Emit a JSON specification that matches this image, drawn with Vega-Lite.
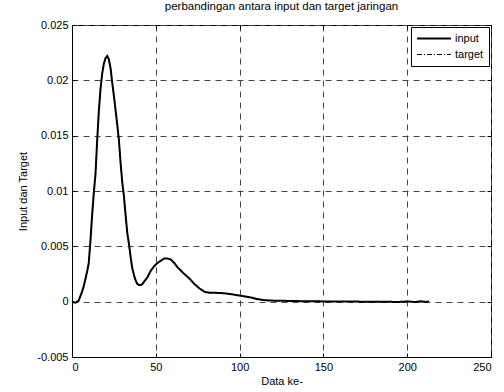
{
  "$schema": "https://vega.github.io/schema/vega-lite/v6.json",
  "width": 419,
  "height": 332,
  "autosize": "none",
  "padding": {"left": 72, "top": 25, "right": 13, "bottom": 35},
  "background": "white",
  "config": {
    "font": "Liberation Sans",
    "view": {"stroke": "black", "strokeWidth": 1},
    "axis": {
      "labelFont": "Liberation Sans",
      "titleFont": "Liberation Sans",
      "labelFontSize": 11,
      "titleFontSize": 11,
      "titleFontWeight": "normal",
      "labelColor": "black",
      "titleColor": "black",
      "domainColor": "black",
      "tickColor": "black",
      "gridColor": "#444444",
      "gridDash": [6, 5],
      "gridOpacity": 1,
      "gridWidth": 1
    }
  },
  "title": {
    "text": "perbandingan antara input dan target jaringan",
    "font": "Liberation Sans",
    "fontSize": 11.5,
    "fontWeight": "normal",
    "color": "black",
    "offset": 7
  },
  "data": {
    "values": [
      {"x": 0, "input": 0.0, "target": 0.0},
      {"x": 2, "input": -0.0001, "target": -0.0001},
      {"x": 4, "input": 0.0001, "target": 0.0001},
      {"x": 6, "input": 0.0009, "target": 0.0009},
      {"x": 7, "input": 0.0014, "target": 0.0014},
      {"x": 9, "input": 0.0027, "target": 0.0027},
      {"x": 10, "input": 0.0035, "target": 0.0035},
      {"x": 11, "input": 0.0055, "target": 0.0055},
      {"x": 12, "input": 0.0078, "target": 0.0078},
      {"x": 13, "input": 0.0098, "target": 0.0098},
      {"x": 14, "input": 0.0115, "target": 0.0115},
      {"x": 15, "input": 0.0145, "target": 0.0145},
      {"x": 16, "input": 0.0172, "target": 0.0172},
      {"x": 17, "input": 0.0192, "target": 0.0192},
      {"x": 18, "input": 0.0206, "target": 0.0206},
      {"x": 19, "input": 0.0215, "target": 0.0215},
      {"x": 20, "input": 0.022, "target": 0.022},
      {"x": 21, "input": 0.0222, "target": 0.0222},
      {"x": 22, "input": 0.0219, "target": 0.0219},
      {"x": 23, "input": 0.0211, "target": 0.0211},
      {"x": 24, "input": 0.0198, "target": 0.0198},
      {"x": 25, "input": 0.0186, "target": 0.0186},
      {"x": 26, "input": 0.0173, "target": 0.0173},
      {"x": 27, "input": 0.016, "target": 0.016},
      {"x": 28, "input": 0.0146, "target": 0.0146},
      {"x": 29, "input": 0.0125, "target": 0.0125},
      {"x": 30, "input": 0.0108, "target": 0.0108},
      {"x": 31, "input": 0.0095, "target": 0.0095},
      {"x": 32, "input": 0.0078, "target": 0.0078},
      {"x": 33, "input": 0.0062, "target": 0.0062},
      {"x": 34, "input": 0.0052, "target": 0.0052},
      {"x": 35, "input": 0.004, "target": 0.004},
      {"x": 36, "input": 0.003, "target": 0.003},
      {"x": 37, "input": 0.0024, "target": 0.0024},
      {"x": 38, "input": 0.0019, "target": 0.0019},
      {"x": 39, "input": 0.0016, "target": 0.0016},
      {"x": 40, "input": 0.0015, "target": 0.0015},
      {"x": 41, "input": 0.0015, "target": 0.0015},
      {"x": 42, "input": 0.0016, "target": 0.0016},
      {"x": 43, "input": 0.0018, "target": 0.0018},
      {"x": 45, "input": 0.0022, "target": 0.0022},
      {"x": 47, "input": 0.0028, "target": 0.0028},
      {"x": 49, "input": 0.0032, "target": 0.0032},
      {"x": 51, "input": 0.0035, "target": 0.0035},
      {"x": 53, "input": 0.0037, "target": 0.0037},
      {"x": 55, "input": 0.0039, "target": 0.0039},
      {"x": 57, "input": 0.0039, "target": 0.0039},
      {"x": 59, "input": 0.0038, "target": 0.0038},
      {"x": 61, "input": 0.0035, "target": 0.0035},
      {"x": 63, "input": 0.0031, "target": 0.0031},
      {"x": 65, "input": 0.0028, "target": 0.0028},
      {"x": 67, "input": 0.0025, "target": 0.0025},
      {"x": 70, "input": 0.0021, "target": 0.0021},
      {"x": 73, "input": 0.0016, "target": 0.0016},
      {"x": 76, "input": 0.0012, "target": 0.0012},
      {"x": 79, "input": 0.0009, "target": 0.0009},
      {"x": 82, "input": 0.0008, "target": 0.0008},
      {"x": 86, "input": 0.0008, "target": 0.0008},
      {"x": 90, "input": 0.00077, "target": 0.00077},
      {"x": 94, "input": 0.0007, "target": 0.0007},
      {"x": 98, "input": 0.0006, "target": 0.0006},
      {"x": 102, "input": 0.0005, "target": 0.0005},
      {"x": 106, "input": 0.0004, "target": 0.0004},
      {"x": 110, "input": 0.00025, "target": 0.00025},
      {"x": 114, "input": 0.00015, "target": 0.00015},
      {"x": 118, "input": 0.0001, "target": 0.0001},
      {"x": 125, "input": 0.00008, "target": 0.00008},
      {"x": 135, "input": 0.00005, "target": 0.00005},
      {"x": 145, "input": 0.00003, "target": 0.00003},
      {"x": 155, "input": 0.00002, "target": 0.00002},
      {"x": 165, "input": 0.00001, "target": 0.00001},
      {"x": 175, "input": 0.0, "target": 0.0},
      {"x": 185, "input": 0.0, "target": 0.0},
      {"x": 195, "input": -0.00003, "target": -0.00003},
      {"x": 200, "input": 0.00002, "target": 0.00002},
      {"x": 205, "input": -0.00003, "target": -0.00003},
      {"x": 208, "input": 0.00003, "target": 0.00003},
      {"x": 211, "input": -0.00002, "target": -0.00002},
      {"x": 213, "input": 0.00002, "target": 0.00002}
    ]
  },
  "transform": [{"fold": ["input", "target"], "as": ["series", "value"]}],
  "layer": [
    {
      "mark": {"type": "line", "color": "black"},
      "encoding": {
        "x": {
          "field": "x", "type": "quantitative",
          "scale": {"domain": [0, 250], "nice": false, "zero": false},
          "axis": {"orient": "bottom", "title": "Data ke-", "values": [0, 50, 100, 150, 200, 250], "tickSize": -4, "labelPadding": 8, "titlePadding": 3, "grid": true}
        },
        "y": {
          "field": "value", "type": "quantitative",
          "scale": {"domain": [-0.005, 0.025], "nice": false, "zero": false},
          "axis": {"orient": "left", "title": "Input dan Target", "values": [-0.005, 0, 0.005, 0.01, 0.015, 0.02, 0.025], "labelExpr": "replace(format(datum.value, '~g'), '−', '-')", "tickSize": -4, "labelPadding": 8, "titlePadding": 8, "grid": true}
        },
        "strokeDash": {
          "field": "series", "type": "nominal",
          "scale": {"domain": ["input", "target"], "range": [[1, 0], [5, 2, 1, 2]]},
          "legend": {
            "title": null, "orient": "top-right", "offset": 2,
            "strokeColor": "black", "fillColor": "white", "padding": 5,
            "symbolType": "stroke", "symbolSize": 1150, "symbolStrokeWidth": 1.5, "symbolStrokeColor": "black",
            "clipHeight": 13,
            "labelFont": "Liberation Sans", "labelFontSize": 11, "labelColor": "black", "labelOffset": 3, "rowPadding": 3, "cornerRadius": 0
          }
        },
        "strokeWidth": {
          "field": "series", "type": "nominal",
          "scale": {"domain": ["input", "target"], "range": [2, 1]},
          "legend": null
        }
      }
    },
    {
      "mark": {"type": "line", "opacity": 0},
      "encoding": {
        "x": {"field": "x", "type": "quantitative", "axis": {"orient": "top", "title": null, "labels": false, "domain": false, "grid": false, "values": [0, 50, 100, 150, 200, 250], "tickSize": -4}},
        "y": {"field": "value", "type": "quantitative", "axis": {"orient": "right", "title": null, "labels": false, "domain": false, "grid": false, "values": [-0.005, 0, 0.005, 0.01, 0.015, 0.02, 0.025], "tickSize": -4}},
        "detail": {"field": "series", "type": "nominal"}
      }
    }
  ],
  "resolve": {"axis": {"x": "independent", "y": "independent"}}
}
